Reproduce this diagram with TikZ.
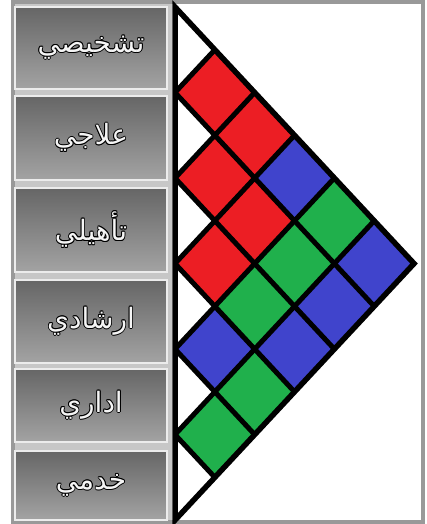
\documentclass[tikz,border=0pt]{standalone}
\usepackage{fontspec}
\usepackage{contour}
\newfontfamily\arabicfont[Script=Arabic]{DejaVu Sans}
\TeXXeTstate=1
\contourlength{0.9pt}
\contournumber{8}
\definecolor{tilered}{RGB}{236,30,36}
\definecolor{tileblue}{RGB}{64,68,204}
\definecolor{tilegreen}{RGB}{32,176,76}
\newcommand{\artxt}[1]{\textcolor{white!92!gray}{\contour{black}{\beginR #1\endR}}}

\begin{document}
\begin{tikzpicture}[x=1pt, y=-1pt]
  \tikzstyle{levelbox}=[draw=white!85!gray,line width=1.5pt,top color=black!60,bottom color=black!36,minimum width=152pt,inner sep=0pt,font=\arabicfont\fontsize{28}{32}\selectfont]
  \tikzstyle{gridline}=[line width=5pt]
  \useasboundingbox (0,0) rectangle (427,524);
  \fill[black!22] (12,2) rectangle (172,522);
  \fill[white] (172,2) rectangle (423,522);
  \draw[black!40, line width=4pt] (13,2) rectangle (423,522);
  \node[levelbox,minimum height=82pt] (diag) at (91,48) {\artxt{تشخيصي}};
  \node[levelbox,minimum height=84pt] (treat) at (91,138) {\artxt{علاجي}};
  \node[levelbox,minimum height=84pt] (rehab) at (91,230) {\artxt{تأهيلي}};
  \node[levelbox,minimum height=83pt] (guide) at (91,321.5) {\artxt{ارشادي}};
  \node[levelbox,minimum height=73pt] (admin) at (91,405.5) {\artxt{اداري}};
  \node[levelbox,minimum height=69pt] (serv) at (91,485.5) {\artxt{خدمي}};
  % tiles on the rotated grid
  \begin{scope}[shift={(175pt,-7pt)}, x={(19.92pt,-21.38pt)}, y={(-19.92pt,-21.38pt)}]
    \foreach \i/\j/\c in {1/0/tilered, 2/0/tilered, 2/1/tilered, 3/0/tileblue, 3/1/tilered, 3/2/tilered,
        4/0/tilegreen, 4/1/tilegreen, 4/2/tilegreen, 4/3/tileblue,
        5/0/tileblue, 5/1/tileblue, 5/2/tileblue, 5/3/tilegreen, 5/4/tilegreen}
      \fill[\c] (2*\i,2*\j) -- ++(2,0) -- ++(0,2) -- ++(-2,0) -- cycle;
    \foreach \k in {2,4,...,10} {
      \draw[gridline] (\k,0) -- (\k,\k);
      \draw[gridline] (\k,\k) -- (12,\k);
    }
    \draw[line width=5.5pt] (0,0) -- (12,0) -- (12,12) -- cycle;
  \end{scope}
\end{tikzpicture}
\end{document}
